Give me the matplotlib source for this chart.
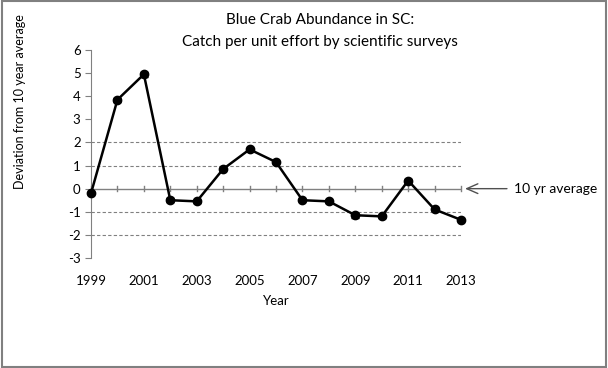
import matplotlib.pyplot as plt
import numpy as np

# Datos
years = [1999, 2000, 2001, 2002, 2003, 2004, 2005, 2006, 2007, 2008, 2009, 2010, 2011, 2012, 2013]
deviation = [-0.2, 3.85, 4.95, -0.5, -0.55, 0.85, 1.7, 1.15, -0.5, -0.55, -1.15, -1.2, 0.35, -0.9, -1.35]
error = [0.05, 0.08, 0.12, 0.08, 0.05, 0.05, 0.08, 0.05, 0.05, 0.08, 0.1, 0.05, 0.05, 0.05, 0.05]
grid_levels = [2, 1, -1, -2]
year_labels = [1999, 2001, 2003, 2005, 2007, 2009, 2011, 2013]

plt.rcParams['font.family'] = ['Lato', 'DejaVu Sans']
plt.rcParams['axes.unicode_minus'] = False

fig = plt.figure(figsize=(6.08, 3.68), dpi=100)
ax = fig.add_axes([0.1497, 0.299, 0.6086, 0.565])

# lineas de referencia punteadas
for g in grid_levels:
    ax.axhline(g, color='#808080', linestyle=(0, (3, 2)), linewidth=0.8, zorder=1)

ax.errorbar(years, deviation, yerr=error, color='black', marker='o', markersize=6,
            linewidth=1.8, capsize=3, elinewidth=1, zorder=3, clip_on=False)

ax.set_xlim(1999, 2013)
ax.set_ylim(-3, 6)
ax.set_yticks(range(-3, 7))
ax.set_xticks(year_labels)

# eje x en y=0, etiquetas abajo
ax.spines['top'].set_visible(False)
ax.spines['right'].set_visible(False)
ax.spines['bottom'].set_visible(False)
ax.spines['left'].set_color('#808080')
ax.axhline(0, color='#808080', linewidth=1, zorder=2)
for yr in years:
    ax.plot([yr, yr], [-0.12, 0.12], color='#808080', linewidth=1, zorder=2, clip_on=False)
ax.tick_params(axis='x', which='both', length=0, labelsize=9.5, pad=12)
ax.tick_params(axis='y', length=4, color='#808080', labelsize=9.5)

ax.set_xlabel('Year', fontsize=9.5, labelpad=6)
fig.text(0.033, 0.725, 'Deviation from 10 year average', rotation=90,
         ha='center', va='center', fontsize=9)

fig.text(0.526, 0.945, 'Blue Crab Abundance in SC:', ha='center', va='center', fontsize=11)
fig.text(0.526, 0.885, 'Catch per unit effort by scientific surveys', ha='center', va='center', fontsize=11)

ax.annotate('10 yr average', xy=(2013.15, 0), xytext=(2015.0, 0), xycoords='data',
            textcoords='data', va='center', ha='left', fontsize=10,
            arrowprops=dict(arrowstyle='->,head_length=0.8,head_width=0.35', color='#505050',
                            lw=1, shrinkA=3, shrinkB=0),
            annotation_clip=False)

# marco gris alrededor de la figura
fig.patches.append(plt.Rectangle((0.003, 0.003), 0.994, 0.994, transform=fig.transFigure,
                                 fill=False, edgecolor='#808080', linewidth=1.5))

plt.savefig('out.png', dpi=100)
